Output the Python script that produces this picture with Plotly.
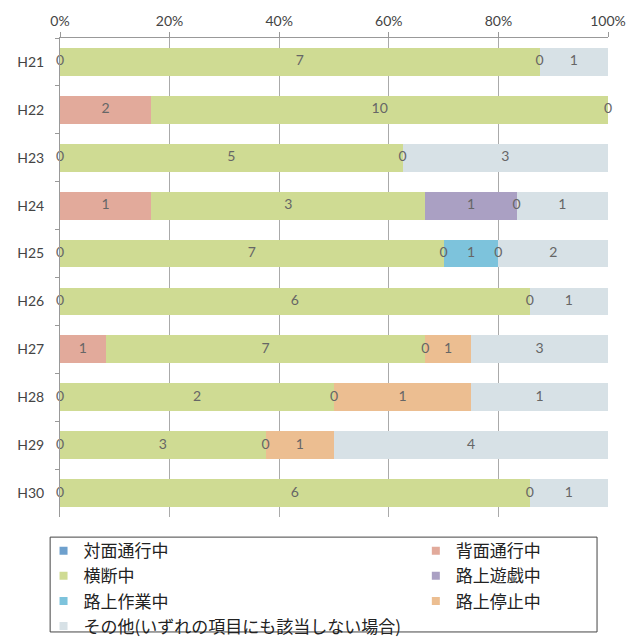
import plotly.graph_objects as go

# Yearly counts by pedestrian situation (stacked to 100%)
years = ["H21", "H22", "H23", "H24", "H25", "H26", "H27", "H28", "H29", "H30"]
taimen = [0, None, 0, None, 0, 0, None, 0, 0, 0]          # 対面通行中
haimen = [None, 2, None, 1, None, None, 1, None, None, None]  # 背面通行中
oudan = [7, 10, 5, 3, 7, 6, 7, 2, 3, 6]                   # 横断中
yugi = [None, None, None, 1, 0, None, None, None, None, None]  # 路上遊戯中
sagyo = [None, None, None, None, 1, None, 0, 0, 0, None]  # 路上作業中
teishi = [0, None, 0, 0, 0, 0, 1, 1, 1, 0]                # 路上停止中
sonota = [1, 0, 3, 1, 2, 1, 3, 1, 4, 1]                   # その他

pct_ticks = [0, 20, 40, 60, 80, 100]
pct_labels = ["0%", "20%", "40%", "60%", "80%", "100%"]

names = ["対面通行中", "背面通行中", "横断中", "路上遊戯中", "路上作業中", "路上停止中",
         "その他(いずれの項目にも該当しない場合)"]
values = [taimen, haimen, oudan, yugi, sagyo, teishi, sonota]
colors = ["#6EA0CD", "#E2AA9B", "#CFDB93", "#AAA0C3", "#7DC3DC", "#ECBE91", "#D7E1E6"]
legend_col = ["legend", "legend2", "legend", "legend2", "legend", "legend2", "legend"]

fig = go.Figure()

for name, vals, col in zip(names, values, colors):
    fig.add_trace(go.Bar(
        y=years, x=[0 if v is None else v for v in vals], name=name,
        orientation="h", marker=dict(color=col, line=dict(width=0)),
        showlegend=False, hoverinfo="skip",
    ))

# Data labels at segment centres (percent of each year's total)
lab_x, lab_y, lab_t = [], [], []
for i, yr in enumerate(years):
    total = sum(v[i] for v in values if v[i] is not None)
    cum = 0
    for vals in values:
        v = vals[i]
        if v is None:
            continue
        lab_x.append((cum + v / 2) / total * 100)
        lab_y.append(yr)
        lab_t.append(str(v))
        cum += v
fig.add_trace(go.Scatter(
    x=lab_x, y=lab_y, text=lab_t, mode="text",
    textfont=dict(family="Lato", size=14, color="#666666"),
    cliponaxis=False, showlegend=False, hoverinfo="skip",
))

# Legend entries with small square swatches, split into two columns
for name, col, lg in zip(names, colors, legend_col):
    fig.add_trace(go.Scatter(
        x=[None], y=[None], mode="markers", name=name, legend=lg,
        marker=dict(symbol="square", size=8, color=col),
    ))

legend_common = dict(
    xref="container", yref="container", xanchor="left", yanchor="top",
    orientation="v", font=dict(size=17, color="#222222"), itemsizing="trace",
    bgcolor="rgba(0,0,0,0)", traceorder="normal",
)

fig.update_layout(
    width=631, height=637,
    margin=dict(l=60, r=23, t=38, b=120, autoexpand=False),
    barmode="stack", barnorm="percent", bargap=0.42,
    plot_bgcolor="white", paper_bgcolor="white",
    font=dict(family="Noto Sans CJK JP", color="#222222"),
    xaxis=dict(
        side="top", range=[0, 100], tickvals=pct_ticks, ticktext=pct_labels,
        showgrid=True, gridcolor="#AAAAAA", gridwidth=1,
        zeroline=False, showline=True, linecolor="#999999",
        ticks="outside", ticklen=5, tickcolor="#999999",
        tickfont=dict(family="Lato", size=14, color="#444444"),
        automargin=False,
    ),
    yaxis=dict(
        type="category", autorange="reversed", tickson="boundaries",
        ticks="outside", ticklen=4, tickcolor="#999999",
        showline=True, linecolor="#999999", showgrid=False,
        tickfont=dict(family="Lato", size=14, color="#444444"),
        ticklabelstandoff=12, automargin=False,
    ),
    legend=dict(x=0.069, y=0.163, **legend_common),
    legend2=dict(x=0.659, y=0.163, **legend_common),
    shapes=[dict(
        type="rect", xref="paper", yref="paper",
        x0=-0.018, x1=0.98, y0=-0.240, y1=-0.042,
        line=dict(color="#444444", width=1), fillcolor="rgba(0,0,0,0)",
    )],
)

fig.write_html("out.html")
